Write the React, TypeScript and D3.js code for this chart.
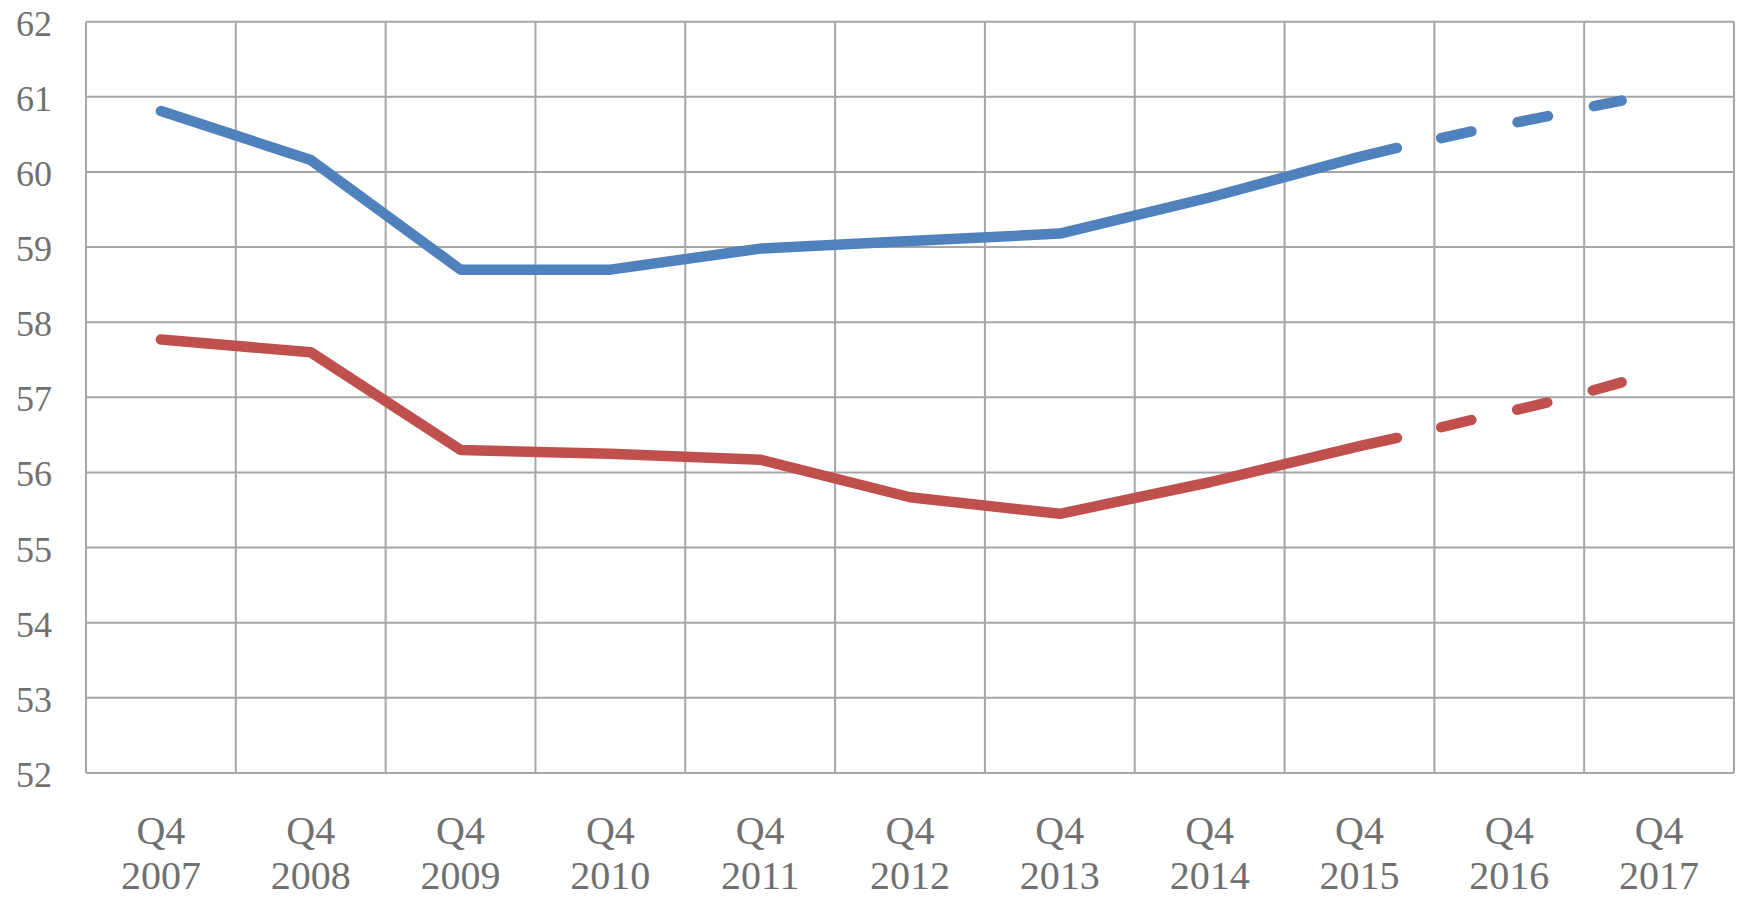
import React from "react";
import * as d3 from "d3";

const years = ["2007", "2008", "2009", "2010", "2011", "2012", "2013", "2014", "2015", "2016", "2017"];
const yTicks = [52, 53, 54, 55, 56, 57, 58, 59, 60, 61, 62];

const actualQuarters = ["2007Q4", "2008Q4", "2009Q4", "2010Q4", "2011Q4", "2012Q4", "2013Q4", "2014Q4", "2015Q4", "2016Q1"];
const blueActual = [60.81, 60.16, 58.7, 58.7, 58.98, 59.08, 59.18, 59.66, 60.2, 60.32];
const redActual = [57.77, 57.6, 56.3, 56.25, 56.17, 55.67, 55.45, 55.87, 56.35, 56.46];

const forecastQuarters = ["2016Q2", "2016Q3", "2016Q4", "2017Q1", "2017Q2", "2017Q3"];
const blueForecast = [60.43, 60.54, 60.64, 60.74, 60.85, 60.95];
const redForecast = [56.58, 56.7, 56.81, 56.93, 57.06, 57.2];

const W = 1738;
const H = 897;
const M = { left: 86, right: 1734, top: 21.7, bottom: 773 };

const qIndex = (q: string) => {
  const y = +q.slice(0, 4);
  const n = +q.slice(5);
  return (y - 2007) * 4 + (n - 4);
};

export default function App() {
  const x = d3.scaleLinear().domain([-2, 42]).range([M.left, M.right]);
  const y = d3.scaleLinear().domain([52, 62]).range([M.bottom, M.top]);
  const line = d3
    .line<[number, number]>()
    .x((d) => x(d[0]))
    .y((d) => y(d[1]));

  const mk = (qs: string[], vs: number[]) => qs.map((q, i) => [qIndex(q), vs[i]] as [number, number]);

  const gridX = d3.range(0, 12).map((k) => -2 + 4 * k);
  const grid = "#a6a6a6";
  const textCol = "#707070";
  const font = "'Liberation Serif', 'Times New Roman', serif";
  const blue = "#4f81bd";
  const red = "#c0504d";
  const sw = 10.5;

  return (
    <svg width={W} height={H} style={{ position: "absolute", left: 0, top: 0, background: "#fff" }}>
      {yTicks.map((t) => (
        <line key={"h" + t} x1={M.left} x2={M.right} y1={y(t)} y2={y(t)} stroke={grid} strokeWidth={2} />
      ))}
      {gridX.map((g) => (
        <line key={"v" + g} x1={x(g)} x2={x(g)} y1={M.top} y2={M.bottom} stroke={grid} strokeWidth={2} />
      ))}
      {yTicks.map((t) => (
        <text
          key={"yl" + t}
          x={52}
          y={y(t) + 14}
          textAnchor="end"
          fontFamily={font}
          fontSize={36}
          fill={textCol}
        >
          {t}
        </text>
      ))}
      {years.map((yr, i) => (
        <g key={"xl" + yr}>
          <text x={x(i * 4)} y={844} textAnchor="middle" fontFamily={font} fontSize={40} fill={textCol}>
            Q4
          </text>
          <text x={x(i * 4)} y={889} textAnchor="middle" fontFamily={font} fontSize={40} fill={textCol}>
            {yr}
          </text>
        </g>
      ))}
      <path d={line(mk(actualQuarters, blueActual)) || ""} fill="none" stroke={blue} strokeWidth={sw} strokeLinecap="round" strokeLinejoin="round" />
      <path d={line(mk(actualQuarters, redActual)) || ""} fill="none" stroke={red} strokeWidth={sw} strokeLinecap="round" strokeLinejoin="round" />
      <path
        d={line(mk(forecastQuarters, blueForecast)) || ""}
        fill="none"
        stroke={blue}
        strokeWidth={sw}
        strokeLinecap="round"
        strokeDasharray="31 47"
        strokeDashoffset={71}
      />
      <path
        d={line(mk(forecastQuarters, redForecast)) || ""}
        fill="none"
        stroke={red}
        strokeWidth={sw}
        strokeLinecap="round"
        strokeDasharray="31 47"
        strokeDashoffset={71}
      />
    </svg>
  );
}
